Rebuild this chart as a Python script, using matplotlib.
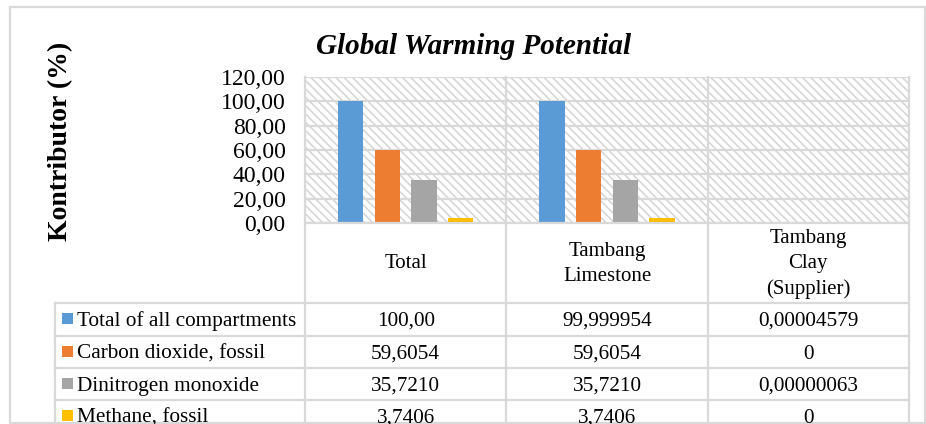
import matplotlib.pyplot as plt
from matplotlib.patches import Rectangle
import numpy as np

plt.rcParams['font.family'] = ['Liberation Serif', 'DejaVu Serif']
plt.rcParams['hatch.color'] = '#d4d4d4'
plt.rcParams['hatch.linewidth'] = 1.1

# data
categories = ['Total', 'Tambang\nLimestone', 'Tambang\nClay\n(Supplier)']
series = ['Total of all compartments', 'Carbon dioxide, fossil',
          'Dinitrogen monoxide', 'Methane, fossil']
total_all = [100.00, 99.999954, 0.00004579]
co2 = [59.6054, 59.6054, 0]
n2o = [35.7210, 35.7210, 0.00000063]
ch4 = [3.7406, 3.7406, 0]
values = [total_all, co2, n2o, ch4]
table_text = [['100,00', '99,999954', '0,00004579'],
              ['59,6054', '59,6054', '0'],
              ['35,7210', '35,7210', '0,00000063'],
              ['3,7406', '3,7406', '0']]
yticks = [0, 20, 40, 60, 80, 100, 120]
colors = ['#5B9BD5', '#ED7D31', '#A5A5A5', '#FFC000']
grid_c = '#d9d9d9'

W, H = 926, 424
fig = plt.figure(figsize=(W / 100, H / 100), dpi=100)

# plot area (pixel layout)
px_l, px_r, px_t, px_b = 305, 909, 77, 223
ax = fig.add_axes([px_l / W, 1 - px_b / H, (px_r - px_l) / W, (px_b - px_t) / H])
ax.add_patch(Rectangle((0, 0), 1, 1, transform=ax.transAxes, facecolor='white',
                       edgecolor='#d4d4d4', hatch='\\\\\\\\', lw=0, zorder=0))
x = np.arange(len(categories))
step, bw = 0.182, 0.125
for i, (vals, c) in enumerate(zip(values, colors)):
    ax.bar(x + (i - 1.5) * step, vals, width=bw, color=c, zorder=3)
ax.set_xlim(-0.5, len(categories) - 0.5)
ax.set_ylim(0, 120)
ax.set_yticks(yticks)
ax.set_yticklabels([f"{v:.2f}".replace('.', ',') for v in yticks], fontsize=17)
ax.set_xticks([])
ax.tick_params(axis='y', length=0, pad=14)
ax.yaxis.grid(True, color=grid_c, lw=1.6, zorder=1)
ax.set_axisbelow(False)
for s in ax.spines.values():
    s.set_visible(False)

# overlay for table, titles and frame
ov = fig.add_axes([0, 0, 1, 1], zorder=5)
ov.set_xlim(0, W)
ov.set_ylim(H, 0)
ov.axis('off')

col_edges = [px_l + k * (px_r - px_l) / len(categories) for k in range(len(categories) + 1)]
col_mid = [(a + b) / 2 for a, b in zip(col_edges[:-1], col_edges[1:])]
leg_l = 55
rows = [303, 336, 368, 400, 432]

for xe in col_edges:
    ov.plot([xe, xe], [px_t, H], color=grid_c, lw=1.6)
ov.plot([px_l, px_r], [px_b, px_b], color=grid_c, lw=1.6)
ov.plot([leg_l, leg_l], [rows[0], H], color=grid_c, lw=1.6)
for ry in rows[:-1]:
    ov.plot([leg_l, px_r], [ry, ry], color=grid_c, lw=1.6)

# header row
for cx, cat in zip(col_mid, categories):
    ov.text(cx, 264, cat, ha='center', va='center', fontsize=15, linespacing=1.42)

# data rows (last row is cut by the chart frame, as in the original)
for r, name in enumerate(series):
    base = rows[r] + 23
    ov.add_patch(Rectangle((62, base - 13), 11, 11, color=colors[r], lw=0))
    ov.text(77, base, name, ha='left', va='baseline', fontsize=15.3)
    for cx, t in zip(col_mid, table_text[r]):
        ov.text(cx, base, t, ha='center', va='baseline', fontsize=15.3)

ov.text(474, 47, 'Global Warming Potential', ha='center', va='center',
        fontsize=21, fontweight='bold', fontstyle='italic')
ov.text(61, 141, 'Kontributor (%)', ha='center', va='center', rotation=90,
        fontsize=20, fontweight='bold')

# outer chart border
ov.add_patch(Rectangle((10, 7), 915, 416, fill=False, edgecolor=grid_c, lw=1.6))

fig.savefig('out.png', dpi=100)
